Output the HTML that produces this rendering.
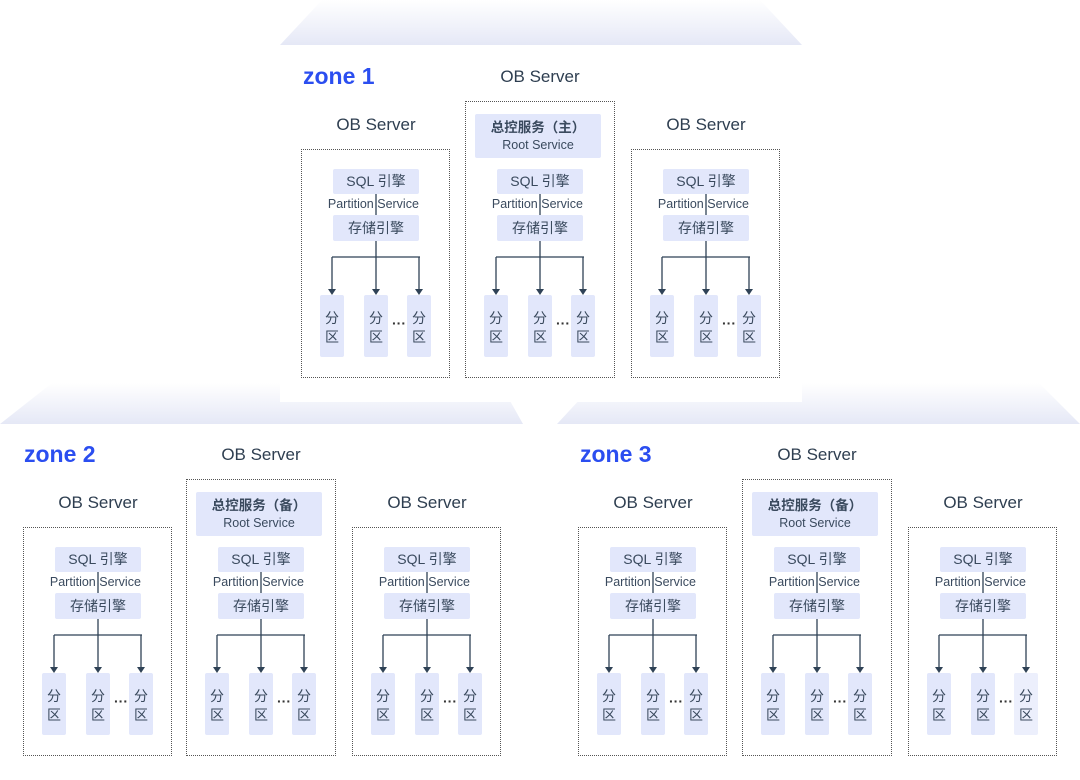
<!DOCTYPE html>
<html><head><meta charset="utf-8"><style>
body{margin:0;width:1080px;height:780px;background:#fff;position:relative;overflow:hidden;font-family:"Liberation Sans","Noto Sans CJK SC",sans-serif;color:#33475b}
.zl{position:absolute;font-weight:bold;font-size:23px;color:#2b4ef0}
.s{position:absolute;width:149px;height:229px}
.f{position:absolute;left:0;top:0;width:147px;height:227px;border:1px dotted #555}
.t{position:absolute;left:-20px;width:190px;text-align:center;font-size:17px;top:-34px;color:#2e3e50}
.b{position:absolute;background:#e2e7fb;border-radius:2px;text-align:center;font-size:14px;color:#3a4a5e}
.sql{left:32px;top:20px;width:86px;height:25px;line-height:25px}
.st{left:32px;top:66px;width:86px;height:26px;line-height:27px}
.ps{position:absolute;left:0;width:149px;top:48px;font-size:12.5px;text-align:center;color:#3a4a5e;line-height:14px}
.ps span{display:inline-block;width:70px}
.p{top:146px;width:24px;height:62px;font-size:14px;line-height:19px;padding-top:14px;box-sizing:border-box}
.dots{position:absolute;left:91px;top:166px;font-size:14px;color:#333;font-weight:bold}
svg{position:absolute;left:0;top:0;overflow:visible}
.m .f{top:-48px;width:148px;height:275px}
.m .t{top:-82px}
.rt{left:10px;top:-35px;width:126px;height:44px;font-size:12.5px;line-height:17px;padding-top:5px;box-sizing:border-box}
.rt b{font-size:13.5px}
</style></head><body>
<svg width="1080" height="780" style="position:absolute;left:0;top:0">
<defs><linearGradient id="g" x1="0" y1="0" x2="0" y2="1"><stop offset="0" stop-color="#ffffff"/><stop offset="1" stop-color="#e5e8f6"/></linearGradient></defs>
<polygon points="322,0 760,0 802,45 280,45" fill="url(#g)"/>
<polygon points="0,424 52,383 500,383 523,424" fill="url(#g)"/>
<polygon points="595,383 1039,383 1080,424 557,424" fill="url(#g)"/>
<rect x="280" y="45" width="522" height="357" fill="#fff"/>
</svg>
<div class="zl" style="left:303px;top:63px">zone 1</div>
<div class="zl" style="left:24px;top:441px">zone 2</div>
<div class="zl" style="left:580px;top:441px">zone 3</div>

<div class="s" style="left:301px;top:149px"><div class="f"></div><div class="t">OB Server</div>
<svg width="149" height="229"><g stroke="#2f4256" stroke-width="1.3" fill="none"><path d="M75 45V66M75 92V108M31 108H119M31 108V141M75 108V141M118 108V141"/></g><g fill="#2f4256"><path d="M27 140h8l-4 6z"/><path d="M71 140h8l-4 6z"/><path d="M114 140h8l-4 6z"/></g></svg>
<div class="b sql">SQL 引擎</div><div class="ps"><span style="text-align:right">Partition</span> <span style="text-align:left">Service</span></div><div class="b st">存储引擎</div>
<div class="b p" style="left:19px">分<br>区</div><div class="b p" style="left:63px">分<br>区</div><div class="b p" style="left:106px">分<br>区</div><div class="dots">···</div></div>

<div class="s m" style="left:465px;top:149px"><div class="f"></div><div class="t">OB Server</div><div class="b rt"><b>总控服务（主）</b><br>Root Service</div>
<svg width="149" height="229"><g stroke="#2f4256" stroke-width="1.3" fill="none"><path d="M75 45V66M75 92V108M31 108H119M31 108V141M75 108V141M118 108V141"/></g><g fill="#2f4256"><path d="M27 140h8l-4 6z"/><path d="M71 140h8l-4 6z"/><path d="M114 140h8l-4 6z"/></g></svg>
<div class="b sql">SQL 引擎</div><div class="ps"><span style="text-align:right">Partition</span> <span style="text-align:left">Service</span></div><div class="b st">存储引擎</div>
<div class="b p" style="left:19px">分<br>区</div><div class="b p" style="left:63px">分<br>区</div><div class="b p" style="left:106px">分<br>区</div><div class="dots">···</div></div>

<div class="s" style="left:631px;top:149px"><div class="f"></div><div class="t">OB Server</div>
<svg width="149" height="229"><g stroke="#2f4256" stroke-width="1.3" fill="none"><path d="M75 45V66M75 92V108M31 108H119M31 108V141M75 108V141M118 108V141"/></g><g fill="#2f4256"><path d="M27 140h8l-4 6z"/><path d="M71 140h8l-4 6z"/><path d="M114 140h8l-4 6z"/></g></svg>
<div class="b sql">SQL 引擎</div><div class="ps"><span style="text-align:right">Partition</span> <span style="text-align:left">Service</span></div><div class="b st">存储引擎</div>
<div class="b p" style="left:19px">分<br>区</div><div class="b p" style="left:63px">分<br>区</div><div class="b p" style="left:106px">分<br>区</div><div class="dots">···</div></div>

<div class="s" style="left:23px;top:527px"><div class="f"></div><div class="t">OB Server</div>
<svg width="149" height="229"><g stroke="#2f4256" stroke-width="1.3" fill="none"><path d="M75 45V66M75 92V108M31 108H119M31 108V141M75 108V141M118 108V141"/></g><g fill="#2f4256"><path d="M27 140h8l-4 6z"/><path d="M71 140h8l-4 6z"/><path d="M114 140h8l-4 6z"/></g></svg>
<div class="b sql">SQL 引擎</div><div class="ps"><span style="text-align:right">Partition</span> <span style="text-align:left">Service</span></div><div class="b st">存储引擎</div>
<div class="b p" style="left:19px">分<br>区</div><div class="b p" style="left:63px">分<br>区</div><div class="b p" style="left:106px">分<br>区</div><div class="dots">···</div></div>

<div class="s m" style="left:186px;top:527px"><div class="f"></div><div class="t">OB Server</div><div class="b rt"><b>总控服务（备）</b><br>Root Service</div>
<svg width="149" height="229"><g stroke="#2f4256" stroke-width="1.3" fill="none"><path d="M75 45V66M75 92V108M31 108H119M31 108V141M75 108V141M118 108V141"/></g><g fill="#2f4256"><path d="M27 140h8l-4 6z"/><path d="M71 140h8l-4 6z"/><path d="M114 140h8l-4 6z"/></g></svg>
<div class="b sql">SQL 引擎</div><div class="ps"><span style="text-align:right">Partition</span> <span style="text-align:left">Service</span></div><div class="b st">存储引擎</div>
<div class="b p" style="left:19px">分<br>区</div><div class="b p" style="left:63px">分<br>区</div><div class="b p" style="left:106px">分<br>区</div><div class="dots">···</div></div>

<div class="s" style="left:352px;top:527px"><div class="f"></div><div class="t">OB Server</div>
<svg width="149" height="229"><g stroke="#2f4256" stroke-width="1.3" fill="none"><path d="M75 45V66M75 92V108M31 108H119M31 108V141M75 108V141M118 108V141"/></g><g fill="#2f4256"><path d="M27 140h8l-4 6z"/><path d="M71 140h8l-4 6z"/><path d="M114 140h8l-4 6z"/></g></svg>
<div class="b sql">SQL 引擎</div><div class="ps"><span style="text-align:right">Partition</span> <span style="text-align:left">Service</span></div><div class="b st">存储引擎</div>
<div class="b p" style="left:19px">分<br>区</div><div class="b p" style="left:63px">分<br>区</div><div class="b p" style="left:106px">分<br>区</div><div class="dots">···</div></div>

<div class="s" style="left:578px;top:527px"><div class="f"></div><div class="t">OB Server</div>
<svg width="149" height="229"><g stroke="#2f4256" stroke-width="1.3" fill="none"><path d="M75 45V66M75 92V108M31 108H119M31 108V141M75 108V141M118 108V141"/></g><g fill="#2f4256"><path d="M27 140h8l-4 6z"/><path d="M71 140h8l-4 6z"/><path d="M114 140h8l-4 6z"/></g></svg>
<div class="b sql">SQL 引擎</div><div class="ps"><span style="text-align:right">Partition</span> <span style="text-align:left">Service</span></div><div class="b st">存储引擎</div>
<div class="b p" style="left:19px">分<br>区</div><div class="b p" style="left:63px">分<br>区</div><div class="b p" style="left:106px">分<br>区</div><div class="dots">···</div></div>

<div class="s m" style="left:742px;top:527px"><div class="f"></div><div class="t">OB Server</div><div class="b rt"><b>总控服务（备）</b><br>Root Service</div>
<svg width="149" height="229"><g stroke="#2f4256" stroke-width="1.3" fill="none"><path d="M75 45V66M75 92V108M31 108H119M31 108V141M75 108V141M118 108V141"/></g><g fill="#2f4256"><path d="M27 140h8l-4 6z"/><path d="M71 140h8l-4 6z"/><path d="M114 140h8l-4 6z"/></g></svg>
<div class="b sql">SQL 引擎</div><div class="ps"><span style="text-align:right">Partition</span> <span style="text-align:left">Service</span></div><div class="b st">存储引擎</div>
<div class="b p" style="left:19px">分<br>区</div><div class="b p" style="left:63px">分<br>区</div><div class="b p" style="left:106px">分<br>区</div><div class="dots">···</div></div>

<div class="s" style="left:908px;top:527px"><div class="f"></div><div class="t">OB Server</div>
<svg width="149" height="229"><g stroke="#2f4256" stroke-width="1.3" fill="none"><path d="M75 45V66M75 92V108M31 108H119M31 108V141M75 108V141M118 108V141"/></g><g fill="#2f4256"><path d="M27 140h8l-4 6z"/><path d="M71 140h8l-4 6z"/><path d="M114 140h8l-4 6z"/></g></svg>
<div class="b sql">SQL 引擎</div><div class="ps"><span style="text-align:right">Partition</span> <span style="text-align:left">Service</span></div><div class="b st">存储引擎</div>
<div class="b p" style="left:19px">分<br>区</div><div class="b p" style="left:63px">分<br>区</div><div class="b p" style="left:106px;background:#eceffc">分<br>区</div><div class="dots">···</div></div>
</body></html>
